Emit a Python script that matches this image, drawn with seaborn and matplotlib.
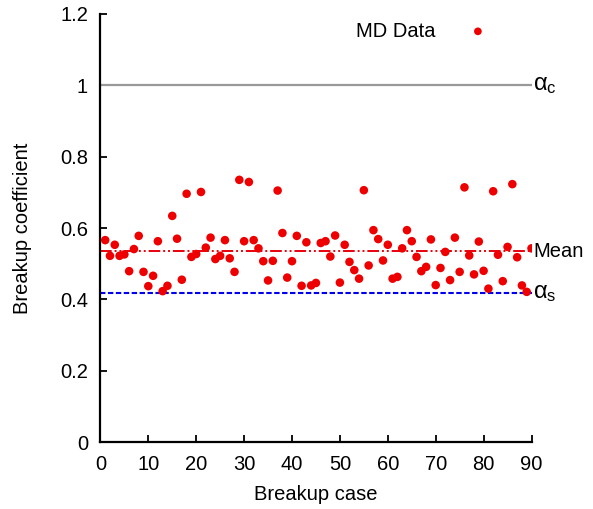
import numpy as np
import pandas as pd
import matplotlib
matplotlib.use("Agg")
import matplotlib.pyplot as plt
import seaborn as sns

# Data
case = list(range(1, 91))
coef = [0.566, 0.522, 0.553, 0.522, 0.526, 0.479, 0.541, 0.578, 0.477, 0.437,
        0.466, 0.563, 0.423, 0.438, 0.634, 0.570, 0.455, 0.696, 0.519, 0.527,
        0.701, 0.545, 0.573, 0.513, 0.522, 0.566, 0.515, 0.477, 0.735, 0.563,
        0.729, 0.566, 0.543, 0.507, 0.453, 0.508, 0.705, 0.586, 0.461, 0.507,
        0.578, 0.438, 0.560, 0.439, 0.446, 0.558, 0.563, 0.520, 0.579, 0.447,
        0.553, 0.505, 0.482, 0.458, 0.706, 0.495, 0.594, 0.569, 0.509, 0.553,
        0.458, 0.463, 0.543, 0.594, 0.563, 0.519, 0.479, 0.491, 0.568, 0.440,
        0.488, 0.533, 0.454, 0.573, 0.477, 0.714, 0.523, 0.470, 0.562, 0.480,
        0.430, 0.703, 0.525, 0.451, 0.547, 0.723, 0.518, 0.439, 0.421, 0.543]
alpha_c = 1.0
mean_val = 0.535
alpha_s = 0.417
x_ticks = [0, 10, 20, 30, 40, 50, 60, 70, 80, 90]
y_ticks = [0, 0.2, 0.4, 0.6, 0.8, 1.0, 1.2]
y_tick_labels = ["0", "0.2", "0.4", "0.6", "0.8", "1", "1.2"]

df = pd.DataFrame({"case": case, "coef": coef})

sns.set_theme(style="white")
plt.rcParams["font.family"] = ["Liberation Sans", "DejaVu Sans"]
plt.rcParams["mathtext.fontset"] = "custom"
plt.rcParams["mathtext.rm"] = "Liberation Sans"
plt.rcParams["mathtext.it"] = "Liberation Sans"
plt.rcParams["text.color"] = "black"
plt.rcParams["axes.labelcolor"] = "black"
plt.rcParams["xtick.color"] = "black"
plt.rcParams["ytick.color"] = "black"

FS = 14.5

fig = plt.figure(figsize=(5.93, 5.09), dpi=100)
ax = fig.add_axes([0.1693, 0.1316, 0.7270, 0.8409])

ax.plot([0, 90], [alpha_c, alpha_c], color="#999999", lw=1.6, zorder=1)
ax.plot([0, 90], [mean_val, mean_val], color="#e8000b", lw=1.4,
        linestyle=(0, (6, 1.5, 1, 1.5, 1, 1.5)), zorder=1)
ax.plot([0, 90], [alpha_s, alpha_s], color="#0000ee", lw=1.5,
        linestyle=(0, (2.6, 1.2)), zorder=1)

sns.scatterplot(data=df, x="case", y="coef", ax=ax, color="#ee0000",
                s=38, edgecolor="none", linewidth=0, label="MD Data", zorder=3)

ax.set_xlim(0, 90)
ax.set_ylim(0, 1.2)
ax.set_xticks(x_ticks)
ax.set_yticks(y_ticks)
ax.set_yticklabels(y_tick_labels)
ax.tick_params(direction="in", length=5, width=1.3, labelsize=FS, pad=9,
               colors="black", labelcolor="black", bottom=True, left=True)
for s in ["top", "right"]:
    ax.spines[s].set_visible(False)
for s in ["left", "bottom"]:
    ax.spines[s].set_color("black")
    ax.spines[s].set_linewidth(1.6)

ax.set_xlabel("Breakup case", fontsize=FS, labelpad=8, color="black")
ax.set_ylabel("Breakup coefficient", fontsize=FS, labelpad=20, color="black")

ax.text(90.3, alpha_c, r"$\alpha_{\mathrm{c}}$", fontsize=17, va="center",
        ha="left", clip_on=False, color="black")
ax.text(90.3, mean_val, "Mean", fontsize=FS, va="center", ha="left",
        clip_on=False, color="black")
ax.text(90.3, alpha_s, r"$\alpha_{\mathrm{s}}$", fontsize=17, va="center",
        ha="left", clip_on=False, color="black")

leg = ax.legend(loc="center right", bbox_to_anchor=(0.899, 0.96),
                frameon=False, markerfirst=False, fontsize=FS,
                handlelength=1.0, handletextpad=1.6, borderpad=0,
                borderaxespad=0, markerscale=0.9, labelcolor="black")

fig.savefig("out.png", dpi=100)
